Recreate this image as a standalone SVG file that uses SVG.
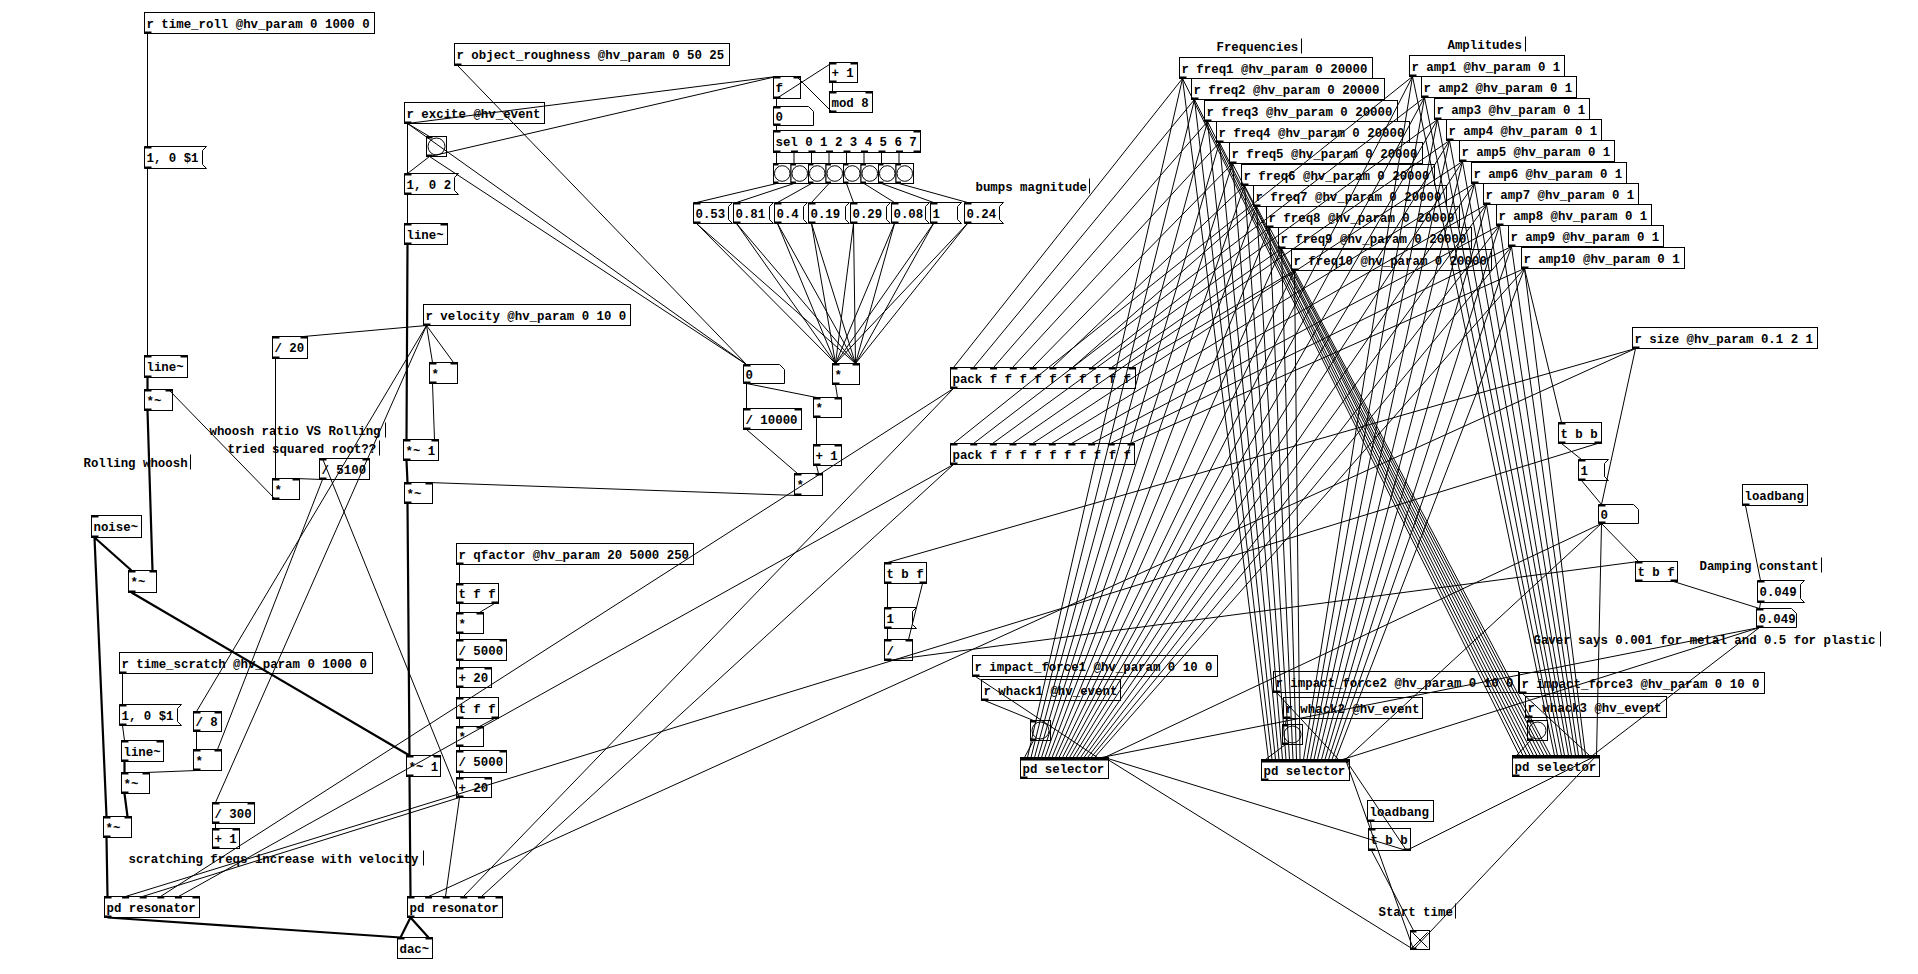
<svg xmlns="http://www.w3.org/2000/svg" width="1918" height="974" viewBox="0 0 1918 974">
<style>
.b{fill:#fff;stroke:#000;stroke-width:1}
.io{fill:#000}
.t{font-family:"Liberation Mono","DejaVu Sans Mono",monospace;font-size:12.4px;font-weight:bold;fill:#000}
.c{fill:none;stroke:#000;stroke-width:1}
.s{fill:none;stroke:#000;stroke-width:2.2}
.bar{stroke:#000;stroke-width:1}
.bc{fill:none;stroke:#000;stroke-width:1}
</style>
<rect x="0" y="0" width="1918" height="974" fill="#fff"/>
<g transform="translate(0.5,0.5)">
<g id="nodes">
<g id="n-time_roll"><rect class="b" x="144" y="12" width="230" height="21"/><text class="t" x="146" y="27">r time_roll @hv_param 0 1000 0</text><rect class="io" x="144" y="31" width="7" height="2"/></g>
<g id="n-msg-roll"><polygon class="b" points="144,146 206,146 202,150 202,164 206,168 144,168"/><text class="t" x="146" y="161">1, 0 $1</text><rect class="io" x="144" y="146" width="7" height="2"/><rect class="io" x="144" y="166" width="7" height="2"/></g>
<g id="n-line-roll"><rect class="b" x="144" y="355" width="43" height="22"/><text class="t" x="146" y="370">line~</text><rect class="io" x="144" y="355" width="7" height="2"/><rect class="io" x="180" y="355" width="7" height="2"/><rect class="io" x="144" y="375" width="7" height="2"/></g>
<g id="n-mul-roll"><rect class="b" x="144" y="389" width="28" height="21"/><text class="t" x="146" y="404">*~</text><rect class="io" x="144" y="389" width="7" height="2"/><rect class="io" x="165" y="389" width="7" height="2"/><rect class="io" x="144" y="408" width="7" height="2"/></g>
<g id="n-div20"><rect class="b" x="272" y="336" width="35" height="22"/><text class="t" x="274" y="351">/ 20</text><rect class="io" x="272" y="336" width="7" height="2"/><rect class="io" x="300" y="336" width="7" height="2"/><rect class="io" x="272" y="356" width="7" height="2"/></g>
<g id="n-mul-ratio"><rect class="b" x="272" y="478" width="27" height="21"/><text class="t" x="274" y="493">*</text><rect class="io" x="272" y="478" width="7" height="2"/><rect class="io" x="292" y="478" width="7" height="2"/><rect class="io" x="272" y="497" width="7" height="2"/></g>
<g id="n-div5100"><rect class="b" x="319" y="458" width="50" height="21"/><text class="t" x="321" y="473">/ 5100</text><rect class="io" x="319" y="458" width="7" height="2"/><rect class="io" x="362" y="458" width="7" height="2"/><rect class="io" x="319" y="477" width="7" height="2"/></g>
<g id="n-noise"><rect class="b" x="91" y="515" width="50" height="22"/><text class="t" x="93" y="530">noise~</text><rect class="io" x="91" y="515" width="7" height="2"/><rect class="io" x="91" y="535" width="7" height="2"/></g>
<g id="n-mul-noise"><rect class="b" x="128" y="570" width="28" height="22"/><text class="t" x="130" y="585">*~</text><rect class="io" x="128" y="570" width="7" height="2"/><rect class="io" x="149" y="570" width="7" height="2"/><rect class="io" x="128" y="590" width="7" height="2"/></g>
<g id="n-time_scratch"><rect class="b" x="119" y="652" width="253" height="21"/><text class="t" x="121" y="667">r time_scratch @hv_param 0 1000 0</text><rect class="io" x="119" y="671" width="7" height="2"/></g>
<g id="n-msg-scratch"><polygon class="b" points="119,704 181,704 177,708 177,721 181,725 119,725"/><text class="t" x="121" y="719">1, 0 $1</text><rect class="io" x="119" y="704" width="7" height="2"/><rect class="io" x="119" y="723" width="7" height="2"/></g>
<g id="n-div8"><rect class="b" x="193" y="711" width="28" height="20"/><text class="t" x="195" y="725">/ 8</text><rect class="io" x="193" y="711" width="7" height="2"/><rect class="io" x="214" y="711" width="7" height="2"/><rect class="io" x="193" y="729" width="7" height="2"/></g>
<g id="n-line-scratch"><rect class="b" x="121" y="740" width="42" height="21"/><text class="t" x="123" y="755">line~</text><rect class="io" x="121" y="740" width="7" height="2"/><rect class="io" x="156" y="740" width="7" height="2"/><rect class="io" x="121" y="759" width="7" height="2"/></g>
<g id="n-mul-scr"><rect class="b" x="193" y="749" width="28" height="21"/><text class="t" x="195" y="764">*</text><rect class="io" x="193" y="749" width="7" height="2"/><rect class="io" x="214" y="749" width="7" height="2"/><rect class="io" x="193" y="768" width="7" height="2"/></g>
<g id="n-mulsig-scr"><rect class="b" x="121" y="772" width="28" height="21"/><text class="t" x="123" y="787">*~</text><rect class="io" x="121" y="772" width="7" height="2"/><rect class="io" x="142" y="772" width="7" height="2"/><rect class="io" x="121" y="791" width="7" height="2"/></g>
<g id="n-mulsig-noise2"><rect class="b" x="103" y="816" width="28" height="21"/><text class="t" x="105" y="831">*~</text><rect class="io" x="103" y="816" width="7" height="2"/><rect class="io" x="124" y="816" width="7" height="2"/><rect class="io" x="103" y="835" width="7" height="2"/></g>
<g id="n-div300"><rect class="b" x="212" y="802" width="42" height="21"/><text class="t" x="214" y="817">/ 300</text><rect class="io" x="212" y="802" width="7" height="2"/><rect class="io" x="247" y="802" width="7" height="2"/><rect class="io" x="212" y="821" width="7" height="2"/></g>
<g id="n-add1-scr"><rect class="b" x="212" y="828" width="27" height="20"/><text class="t" x="214" y="842">+ 1</text><rect class="io" x="212" y="828" width="7" height="2"/><rect class="io" x="232" y="828" width="7" height="2"/><rect class="io" x="212" y="846" width="7" height="2"/></g>
<g id="n-res-left"><rect class="b" x="104" y="896" width="95" height="21"/><text class="t" x="106" y="911">pd resonator</text><rect class="io" x="104" y="896" width="7" height="2"/><rect class="io" x="121.6" y="896" width="7" height="2"/><rect class="io" x="139.2" y="896" width="7" height="2"/><rect class="io" x="156.8" y="896" width="7" height="2"/><rect class="io" x="174.4" y="896" width="7" height="2"/><rect class="io" x="192" y="896" width="7" height="2"/><rect class="io" x="104" y="915" width="7" height="2"/></g>
<g id="n-res-right"><rect class="b" x="407" y="896" width="95" height="21"/><text class="t" x="409" y="911">pd resonator</text><rect class="io" x="407" y="896" width="7" height="2"/><rect class="io" x="424.6" y="896" width="7" height="2"/><rect class="io" x="442.2" y="896" width="7" height="2"/><rect class="io" x="459.8" y="896" width="7" height="2"/><rect class="io" x="477.4" y="896" width="7" height="2"/><rect class="io" x="495" y="896" width="7" height="2"/><rect class="io" x="407" y="915" width="7" height="2"/></g>
<g id="n-dac"><rect class="b" x="397" y="937" width="35" height="21"/><text class="t" x="399" y="952">dac~</text><rect class="io" x="397" y="937" width="7" height="2"/><rect class="io" x="425" y="937" width="7" height="2"/></g>

<g id="n-excite"><rect class="b" x="404" y="102" width="140" height="21"/><text class="t" x="406" y="117">r excite @hv_event</text><rect class="io" x="404" y="121" width="7" height="2"/></g>
<g id="n-bang-excite"><rect class="b" x="426" y="136" width="20" height="20"/><circle class="bc" cx="436" cy="146" r="8.5"/><rect class="io" x="426" y="136" width="6" height="2"/><rect class="io" x="426" y="154" width="6" height="2"/></g>
<g id="n-msg-excite"><polygon class="b" points="404,173 458,173 454,177 454,190 458,194 404,194"/><text class="t" x="406" y="188">1, 0 2</text><rect class="io" x="404" y="173" width="7" height="2"/><rect class="io" x="404" y="192" width="7" height="2"/></g>
<g id="n-line-excite"><rect class="b" x="404" y="223" width="43" height="21"/><text class="t" x="406" y="238">line~</text><rect class="io" x="404" y="223" width="7" height="2"/><rect class="io" x="440" y="223" width="7" height="2"/><rect class="io" x="404" y="242" width="7" height="2"/></g>
<g id="n-velocity"><rect class="b" x="423" y="304" width="207" height="21"/><text class="t" x="425" y="319">r velocity @hv_param 0 10 0</text><rect class="io" x="423" y="323" width="7" height="2"/></g>
<g id="n-mul-vel"><rect class="b" x="429" y="362" width="28" height="21"/><text class="t" x="431" y="377">*</text><rect class="io" x="429" y="362" width="7" height="2"/><rect class="io" x="450" y="362" width="7" height="2"/><rect class="io" x="429" y="381" width="7" height="2"/></g>
<g id="n-mulsig1-a"><rect class="b" x="403" y="439" width="35" height="21"/><text class="t" x="405" y="454">*~ 1</text><rect class="io" x="403" y="439" width="7" height="2"/><rect class="io" x="431" y="439" width="7" height="2"/><rect class="io" x="403" y="458" width="7" height="2"/></g>
<g id="n-mulsig-b"><rect class="b" x="404" y="482" width="28" height="21"/><text class="t" x="406" y="497">*~</text><rect class="io" x="404" y="482" width="7" height="2"/><rect class="io" x="425" y="482" width="7" height="2"/><rect class="io" x="404" y="501" width="7" height="2"/></g>
<g id="n-mulsig1-c"><rect class="b" x="406" y="755" width="34" height="21"/><text class="t" x="408" y="770">*~ 1</text><rect class="io" x="406" y="755" width="7" height="2"/><rect class="io" x="433" y="755" width="7" height="2"/><rect class="io" x="406" y="774" width="7" height="2"/></g>
<g id="n-qfactor"><rect class="b" x="456" y="543" width="237" height="21"/><text class="t" x="458" y="558">r qfactor @hv_param 20 5000 250</text><rect class="io" x="456" y="562" width="7" height="2"/></g>
<g id="n-tff1"><rect class="b" x="456" y="583" width="42" height="20"/><text class="t" x="458" y="597">t f f</text><rect class="io" x="456" y="583" width="7" height="2"/><rect class="io" x="456" y="601" width="7" height="2"/><rect class="io" x="491" y="601" width="7" height="2"/></g>
<g id="n-q-mul1"><rect class="b" x="456" y="612" width="27" height="21"/><text class="t" x="458" y="627">*</text><rect class="io" x="456" y="612" width="7" height="2"/><rect class="io" x="476" y="612" width="7" height="2"/><rect class="io" x="456" y="631" width="7" height="2"/></g>
<g id="n-q-div1"><rect class="b" x="456" y="639" width="50" height="21"/><text class="t" x="458" y="654">/ 5000</text><rect class="io" x="456" y="639" width="7" height="2"/><rect class="io" x="499" y="639" width="7" height="2"/><rect class="io" x="456" y="658" width="7" height="2"/></g>
<g id="n-q-add1"><rect class="b" x="456" y="667" width="35" height="20"/><text class="t" x="458" y="681">+ 20</text><rect class="io" x="456" y="667" width="7" height="2"/><rect class="io" x="484" y="667" width="7" height="2"/><rect class="io" x="456" y="685" width="7" height="2"/></g>
<g id="n-tff2"><rect class="b" x="456" y="697" width="42" height="21"/><text class="t" x="458" y="712">t f f</text><rect class="io" x="456" y="697" width="7" height="2"/><rect class="io" x="456" y="716" width="7" height="2"/><rect class="io" x="491" y="716" width="7" height="2"/></g>
<g id="n-q-mul2"><rect class="b" x="456" y="726" width="27" height="20"/><text class="t" x="458" y="740">*</text><rect class="io" x="456" y="726" width="7" height="2"/><rect class="io" x="476" y="726" width="7" height="2"/><rect class="io" x="456" y="744" width="7" height="2"/></g>
<g id="n-q-div2"><rect class="b" x="456" y="750" width="50" height="22"/><text class="t" x="458" y="765">/ 5000</text><rect class="io" x="456" y="750" width="7" height="2"/><rect class="io" x="499" y="750" width="7" height="2"/><rect class="io" x="456" y="770" width="7" height="2"/></g>
<g id="n-q-add2"><rect class="b" x="456" y="777" width="35" height="20"/><text class="t" x="458" y="791">+ 20</text><rect class="io" x="456" y="777" width="7" height="2"/><rect class="io" x="484" y="777" width="7" height="2"/><rect class="io" x="456" y="795" width="7" height="2"/></g>
<g id="n-roughness"><rect class="b" x="454" y="43" width="275" height="22"/><text class="t" x="456" y="58">r object_roughness @hv_param 0 50 25</text><rect class="io" x="454" y="63" width="7" height="2"/></g>
<g id="n-f"><rect class="b" x="773" y="76" width="27" height="22"/><text class="t" x="775" y="91">f</text><rect class="io" x="773" y="76" width="7" height="2"/><rect class="io" x="793" y="76" width="7" height="2"/><rect class="io" x="773" y="96" width="7" height="2"/></g>
<g id="n-add1-count"><rect class="b" x="829" y="62" width="28" height="20"/><text class="t" x="831" y="76">+ 1</text><rect class="io" x="829" y="62" width="7" height="2"/><rect class="io" x="850" y="62" width="7" height="2"/><rect class="io" x="829" y="80" width="7" height="2"/></g>
<g id="n-mod8"><rect class="b" x="829" y="91" width="43" height="21"/><text class="t" x="831" y="106">mod 8</text><rect class="io" x="829" y="91" width="7" height="2"/><rect class="io" x="865" y="91" width="7" height="2"/><rect class="io" x="829" y="110" width="7" height="2"/></g>
<g id="n-num-count"><polygon class="b" points="773,106 808,106 813,111 813,125 773,125"/><text class="t" x="775" y="120">0</text><rect class="io" x="773" y="106" width="7" height="2"/><rect class="io" x="773" y="123" width="7" height="2"/></g>
<g id="n-sel"><rect class="b" x="773" y="130" width="147" height="22"/><text class="t" x="775" y="145">sel 0 1 2 3 4 5 6 7</text><rect class="io" x="773" y="130" width="7" height="2"/><rect class="io" x="913" y="130" width="7" height="2"/><rect class="io" x="773" y="150" width="7" height="2"/><rect class="io" x="790.5" y="150" width="7" height="2"/><rect class="io" x="808" y="150" width="7" height="2"/><rect class="io" x="825.5" y="150" width="7" height="2"/><rect class="io" x="843" y="150" width="7" height="2"/><rect class="io" x="860.5" y="150" width="7" height="2"/><rect class="io" x="878" y="150" width="7" height="2"/><rect class="io" x="895.5" y="150" width="7" height="2"/><rect class="io" x="913" y="150" width="7" height="2"/></g>
<g id="n-bangs-sel">
<rect class="b" x="773" y="163" width="17.5" height="20"/><circle class="bc" cx="781.75" cy="173" r="7.8"/>
<rect class="b" x="790.5" y="163" width="17.5" height="20"/><circle class="bc" cx="799.25" cy="173" r="7.8"/>
<rect class="b" x="808" y="163" width="17.5" height="20"/><circle class="bc" cx="816.75" cy="173" r="7.8"/>
<rect class="b" x="825.5" y="163" width="17.5" height="20"/><circle class="bc" cx="834.25" cy="173" r="7.8"/>
<rect class="b" x="843" y="163" width="17.5" height="20"/><circle class="bc" cx="851.75" cy="173" r="7.8"/>
<rect class="b" x="860.5" y="163" width="17.5" height="20"/><circle class="bc" cx="869.25" cy="173" r="7.8"/>
<rect class="b" x="878" y="163" width="17.5" height="20"/><circle class="bc" cx="886.75" cy="173" r="7.8"/>
<rect class="b" x="895.5" y="163" width="17.5" height="20"/><circle class="bc" cx="904.25" cy="173" r="7.8"/>
<rect class="io" x="773" y="163" width="5" height="2"/><rect class="io" x="790.5" y="163" width="5" height="2"/><rect class="io" x="808" y="163" width="5" height="2"/><rect class="io" x="825.5" y="163" width="5" height="2"/><rect class="io" x="843" y="163" width="5" height="2"/><rect class="io" x="860.5" y="163" width="5" height="2"/><rect class="io" x="878" y="163" width="5" height="2"/><rect class="io" x="895.5" y="163" width="5" height="2"/>
<rect class="io" x="773" y="181" width="5" height="2"/><rect class="io" x="790.5" y="181" width="5" height="2"/><rect class="io" x="808" y="181" width="5" height="2"/><rect class="io" x="825.5" y="181" width="5" height="2"/><rect class="io" x="843" y="181" width="5" height="2"/><rect class="io" x="860.5" y="181" width="5" height="2"/><rect class="io" x="878" y="181" width="5" height="2"/><rect class="io" x="895.5" y="181" width="5" height="2"/>
</g>
<g id="n-msg-053"><polygon class="b" points="693,202 732,202 728,206 728,219 732,223 693,223"/><text class="t" x="695" y="217">0.53</text><rect class="io" x="693" y="202" width="7" height="2"/><rect class="io" x="693" y="221" width="7" height="2"/></g>
<g id="n-msg-081"><polygon class="b" points="733,202 773,202 769,206 769,219 773,223 733,223"/><text class="t" x="735" y="217">0.81</text><rect class="io" x="733" y="202" width="7" height="2"/><rect class="io" x="733" y="221" width="7" height="2"/></g>
<g id="n-msg-04"><polygon class="b" points="774,202 807,202 803,206 803,219 807,223 774,223"/><text class="t" x="776" y="217">0.4</text><rect class="io" x="774" y="202" width="7" height="2"/><rect class="io" x="774" y="221" width="7" height="2"/></g>
<g id="n-msg-019"><polygon class="b" points="808,202 849,202 845,206 845,219 849,223 808,223"/><text class="t" x="810" y="217">0.19</text><rect class="io" x="808" y="202" width="7" height="2"/><rect class="io" x="808" y="221" width="7" height="2"/></g>
<g id="n-msg-029"><polygon class="b" points="850,202 890,202 886,206 886,219 890,223 850,223"/><text class="t" x="852" y="217">0.29</text><rect class="io" x="850" y="202" width="7" height="2"/><rect class="io" x="850" y="221" width="7" height="2"/></g>
<g id="n-msg-008"><polygon class="b" points="891,202 929,202 925,206 925,219 929,223 891,223"/><text class="t" x="893" y="217">0.08</text><rect class="io" x="891" y="202" width="7" height="2"/><rect class="io" x="891" y="221" width="7" height="2"/></g>
<g id="n-msg-1"><polygon class="b" points="930,202 961,202 957,206 957,219 961,223 930,223"/><text class="t" x="932" y="217">1</text><rect class="io" x="930" y="202" width="7" height="2"/><rect class="io" x="930" y="221" width="7" height="2"/></g>
<g id="n-msg-024"><polygon class="b" points="964,202 1003,202 999,206 999,219 1003,223 964,223"/><text class="t" x="966" y="217">0.24</text><rect class="io" x="964" y="202" width="7" height="2"/><rect class="io" x="964" y="221" width="7" height="2"/></g>
<g id="n-num-rough"><polygon class="b" points="743,364 779,364 784,369 784,383 743,383"/><text class="t" x="745" y="378">0</text><rect class="io" x="743" y="364" width="7" height="2"/><rect class="io" x="743" y="381" width="7" height="2"/></g>
<g id="n-div10000"><rect class="b" x="743" y="408" width="58" height="21"/><text class="t" x="745" y="423">/ 10000</text><rect class="io" x="743" y="408" width="7" height="2"/><rect class="io" x="794" y="408" width="7" height="2"/><rect class="io" x="743" y="427" width="7" height="2"/></g>
<g id="n-mul-sq"><rect class="b" x="832" y="363" width="27" height="21"/><text class="t" x="834" y="378">*</text><rect class="io" x="832" y="363" width="7" height="2"/><rect class="io" x="852" y="363" width="7" height="2"/><rect class="io" x="832" y="382" width="7" height="2"/></g>
<g id="n-mul-bump"><rect class="b" x="813" y="397" width="28" height="20"/><text class="t" x="815" y="411">*</text><rect class="io" x="813" y="397" width="7" height="2"/><rect class="io" x="834" y="397" width="7" height="2"/><rect class="io" x="813" y="415" width="7" height="2"/></g>
<g id="n-add1-bump"><rect class="b" x="813" y="444" width="28" height="21"/><text class="t" x="815" y="459">+ 1</text><rect class="io" x="813" y="444" width="7" height="2"/><rect class="io" x="834" y="444" width="7" height="2"/><rect class="io" x="813" y="463" width="7" height="2"/></g>
<g id="n-mul-out"><rect class="b" x="794" y="473" width="28" height="22"/><text class="t" x="796" y="488">*</text><rect class="io" x="794" y="473" width="7" height="2"/><rect class="io" x="815" y="473" width="7" height="2"/><rect class="io" x="794" y="493" width="7" height="2"/></g>
<g id="n-tbf-left"><rect class="b" x="884" y="562" width="42" height="21"/><text class="t" x="886" y="577">t b f</text><rect class="io" x="884" y="562" width="7" height="2"/><rect class="io" x="884" y="581" width="7" height="2"/><rect class="io" x="919" y="581" width="7" height="2"/></g>
<g id="n-msg1-left"><polygon class="b" points="884,607 916,607 912,611 912,624 916,628 884,628"/><text class="t" x="886" y="622">1</text><rect class="io" x="884" y="607" width="7" height="2"/><rect class="io" x="884" y="626" width="7" height="2"/></g>
<g id="n-div-left"><rect class="b" x="884" y="639" width="28" height="21"/><text class="t" x="886" y="654">/</text><rect class="io" x="884" y="639" width="7" height="2"/><rect class="io" x="905" y="639" width="7" height="2"/><rect class="io" x="884" y="658" width="7" height="2"/></g>
<g id="n-pack1"><rect class="b" x="950" y="367" width="185" height="21"/><text class="t" x="952" y="382">pack f f f f f f f f f f</text><rect class="io" x="950" y="367" width="7" height="2"/><rect class="io" x="969.8" y="367" width="7" height="2"/><rect class="io" x="989.6" y="367" width="7" height="2"/><rect class="io" x="1009.3" y="367" width="7" height="2"/><rect class="io" x="1029.1" y="367" width="7" height="2"/><rect class="io" x="1048.9" y="367" width="7" height="2"/><rect class="io" x="1068.7" y="367" width="7" height="2"/><rect class="io" x="1088.4" y="367" width="7" height="2"/><rect class="io" x="1108.2" y="367" width="7" height="2"/><rect class="io" x="1128" y="367" width="7" height="2"/><rect class="io" x="950" y="386" width="7" height="2"/></g>
<g id="n-pack2"><rect class="b" x="950" y="443" width="184" height="21"/><text class="t" x="952" y="458">pack f f f f f f f f f f</text><rect class="io" x="950" y="443" width="7" height="2"/><rect class="io" x="969.7" y="443" width="7" height="2"/><rect class="io" x="989.3" y="443" width="7" height="2"/><rect class="io" x="1009" y="443" width="7" height="2"/><rect class="io" x="1028.7" y="443" width="7" height="2"/><rect class="io" x="1048.3" y="443" width="7" height="2"/><rect class="io" x="1068" y="443" width="7" height="2"/><rect class="io" x="1087.7" y="443" width="7" height="2"/><rect class="io" x="1107.3" y="443" width="7" height="2"/><rect class="io" x="1127" y="443" width="7" height="2"/><rect class="io" x="950" y="462" width="7" height="2"/></g>

<g id="n-freq1"><rect class="b" x="1179" y="57" width="193" height="21"/><text class="t" x="1181" y="72">r freq1 @hv_param 0 20000</text><rect class="io" x="1179" y="76" width="7" height="2"/></g>
<g id="n-freq2"><rect class="b" x="1191" y="78" width="193" height="21"/><text class="t" x="1193" y="93">r freq2 @hv_param 0 20000</text><rect class="io" x="1191" y="97" width="7" height="2"/></g>
<g id="n-freq3"><rect class="b" x="1204" y="100" width="193" height="21"/><text class="t" x="1206" y="115">r freq3 @hv_param 0 20000</text><rect class="io" x="1204" y="119" width="7" height="2"/></g>
<g id="n-freq4"><rect class="b" x="1216" y="121" width="193" height="21"/><text class="t" x="1218" y="136">r freq4 @hv_param 0 20000</text><rect class="io" x="1216" y="140" width="7" height="2"/></g>
<g id="n-freq5"><rect class="b" x="1229" y="142" width="193" height="21"/><text class="t" x="1231" y="157">r freq5 @hv_param 0 20000</text><rect class="io" x="1229" y="161" width="7" height="2"/></g>
<g id="n-freq6"><rect class="b" x="1241" y="164" width="193" height="21"/><text class="t" x="1243" y="179">r freq6 @hv_param 0 20000</text><rect class="io" x="1241" y="183" width="7" height="2"/></g>
<g id="n-freq7"><rect class="b" x="1253" y="185" width="193" height="21"/><text class="t" x="1255" y="200">r freq7 @hv_param 0 20000</text><rect class="io" x="1253" y="204" width="7" height="2"/></g>
<g id="n-freq8"><rect class="b" x="1266" y="206" width="193" height="21"/><text class="t" x="1268" y="221">r freq8 @hv_param 0 20000</text><rect class="io" x="1266" y="225" width="7" height="2"/></g>
<g id="n-freq9"><rect class="b" x="1278" y="227" width="193" height="21"/><text class="t" x="1280" y="242">r freq9 @hv_param 0 20000</text><rect class="io" x="1278" y="246" width="7" height="2"/></g>
<g id="n-freq10"><rect class="b" x="1291" y="249" width="200" height="21"/><text class="t" x="1293" y="264">r freq10 @hv_param 0 20000</text><rect class="io" x="1291" y="268" width="7" height="2"/></g>
<g id="n-amp1"><rect class="b" x="1409" y="55" width="155" height="21"/><text class="t" x="1411" y="70">r amp1 @hv_param 0 1</text><rect class="io" x="1409" y="74" width="7" height="2"/></g>
<g id="n-amp2"><rect class="b" x="1421" y="76" width="155" height="21"/><text class="t" x="1423" y="91">r amp2 @hv_param 0 1</text><rect class="io" x="1421" y="95" width="7" height="2"/></g>
<g id="n-amp3"><rect class="b" x="1434" y="98" width="155" height="21"/><text class="t" x="1436" y="113">r amp3 @hv_param 0 1</text><rect class="io" x="1434" y="117" width="7" height="2"/></g>
<g id="n-amp4"><rect class="b" x="1446" y="119" width="155" height="21"/><text class="t" x="1448" y="134">r amp4 @hv_param 0 1</text><rect class="io" x="1446" y="138" width="7" height="2"/></g>
<g id="n-amp5"><rect class="b" x="1459" y="140" width="155" height="21"/><text class="t" x="1461" y="155">r amp5 @hv_param 0 1</text><rect class="io" x="1459" y="159" width="7" height="2"/></g>
<g id="n-amp6"><rect class="b" x="1471" y="162" width="155" height="21"/><text class="t" x="1473" y="177">r amp6 @hv_param 0 1</text><rect class="io" x="1471" y="181" width="7" height="2"/></g>
<g id="n-amp7"><rect class="b" x="1483" y="183" width="155" height="21"/><text class="t" x="1485" y="198">r amp7 @hv_param 0 1</text><rect class="io" x="1483" y="202" width="7" height="2"/></g>
<g id="n-amp8"><rect class="b" x="1496" y="204" width="155" height="21"/><text class="t" x="1498" y="219">r amp8 @hv_param 0 1</text><rect class="io" x="1496" y="223" width="7" height="2"/></g>
<g id="n-amp9"><rect class="b" x="1508" y="225" width="155" height="21"/><text class="t" x="1510" y="240">r amp9 @hv_param 0 1</text><rect class="io" x="1508" y="244" width="7" height="2"/></g>
<g id="n-amp10"><rect class="b" x="1521" y="247" width="163" height="21"/><text class="t" x="1523" y="262">r amp10 @hv_param 0 1</text><rect class="io" x="1521" y="266" width="7" height="2"/></g>
<g id="n-size"><rect class="b" x="1632" y="327" width="185" height="21"/><text class="t" x="1634" y="342">r size @hv_param 0.1 2 1</text><rect class="io" x="1632" y="346" width="7" height="2"/></g>
<g id="n-tbb-right"><rect class="b" x="1558" y="422" width="43" height="21"/><text class="t" x="1560" y="437">t b b</text><rect class="io" x="1558" y="422" width="7" height="2"/><rect class="io" x="1558" y="441" width="7" height="2"/><rect class="io" x="1594" y="441" width="7" height="2"/></g>
<g id="n-msg1-right"><polygon class="b" points="1578,459 1608,459 1604,463 1604,476 1608,480 1578,480"/><text class="t" x="1580" y="474">1</text><rect class="io" x="1578" y="459" width="7" height="2"/><rect class="io" x="1578" y="478" width="7" height="2"/></g>
<g id="n-num-size"><polygon class="b" points="1598,504 1633,504 1638,509 1638,523 1598,523"/><text class="t" x="1600" y="518">0</text><rect class="io" x="1598" y="504" width="7" height="2"/><rect class="io" x="1598" y="521" width="7" height="2"/></g>
<g id="n-tbf-right"><rect class="b" x="1635" y="561" width="42" height="20"/><text class="t" x="1637" y="575">t b f</text><rect class="io" x="1635" y="561" width="7" height="2"/><rect class="io" x="1635" y="579" width="7" height="2"/><rect class="io" x="1670" y="579" width="7" height="2"/></g>
<g id="n-loadbang-right"><rect class="b" x="1742" y="484" width="65" height="21"/><text class="t" x="1744" y="499">loadbang</text><rect class="io" x="1742" y="503" width="7" height="2"/></g>
<g id="n-msg-damp"><polygon class="b" points="1757,580 1804,580 1800,584 1800,598 1804,602 1757,602"/><text class="t" x="1759" y="595">0.049</text><rect class="io" x="1757" y="580" width="7" height="2"/><rect class="io" x="1757" y="600" width="7" height="2"/></g>
<g id="n-num-damp"><polygon class="b" points="1756,608 1791,608 1796,613 1796,627 1756,627"/><text class="t" x="1758" y="622">0.049</text><rect class="io" x="1756" y="608" width="7" height="2"/><rect class="io" x="1756" y="625" width="7" height="2"/></g>
<g id="n-impact1"><rect class="b" x="972" y="655" width="245" height="21"/><text class="t" x="974" y="670">r impact_force1 @hv_param 0 10 0</text><rect class="io" x="972" y="674" width="7" height="2"/></g>
<g id="n-whack1"><rect class="b" x="981" y="679" width="139" height="21"/><text class="t" x="983" y="694">r whack1 @hv_event</text><rect class="io" x="981" y="698" width="7" height="2"/></g>
<g id="n-bang-w1"><rect class="b" x="1030" y="720" width="20" height="20"/><circle class="bc" cx="1040" cy="730" r="8.5"/><rect class="io" x="1030" y="720" width="6" height="2"/><rect class="io" x="1030" y="738" width="6" height="2"/></g>
<g id="n-sel1"><rect class="b" x="1020" y="757" width="88" height="21"/><text class="t" x="1022" y="772">pd selector</text><rect class="io" x="1020" y="757" width="88" height="3"/><rect class="io" x="1020" y="776" width="7" height="2"/></g>
<g id="n-impact2"><rect class="b" x="1273" y="671" width="245" height="21"/><text class="t" x="1275" y="686">r impact_force2 @hv_param 0 10 0</text><rect class="io" x="1273" y="690" width="7" height="2"/></g>
<g id="n-whack2"><rect class="b" x="1283" y="697" width="139" height="21"/><text class="t" x="1285" y="712">r whack2 @hv_event</text><rect class="io" x="1283" y="716" width="7" height="2"/></g>
<g id="n-bang-w2"><rect class="b" x="1282" y="724" width="20" height="20"/><circle class="bc" cx="1292" cy="734" r="8.5"/><rect class="io" x="1282" y="724" width="6" height="2"/><rect class="io" x="1282" y="742" width="6" height="2"/></g>
<g id="n-sel2"><rect class="b" x="1261" y="759" width="88" height="21"/><text class="t" x="1263" y="774">pd selector</text><rect class="io" x="1261" y="759" width="88" height="3"/><rect class="io" x="1261" y="778" width="7" height="2"/></g>
<g id="n-impact3"><rect class="b" x="1519" y="672" width="245" height="21"/><text class="t" x="1521" y="687">r impact_force3 @hv_param 0 10 0</text><rect class="io" x="1519" y="691" width="7" height="2"/></g>
<g id="n-whack3"><rect class="b" x="1525" y="696" width="141" height="21"/><text class="t" x="1527" y="711">r whack3 @hv_event</text><rect class="io" x="1525" y="715" width="7" height="2"/></g>
<g id="n-bang-w3"><rect class="b" x="1527" y="720" width="20" height="20"/><circle class="bc" cx="1537" cy="730" r="8.5"/><rect class="io" x="1527" y="720" width="6" height="2"/><rect class="io" x="1527" y="738" width="6" height="2"/></g>
<g id="n-sel3"><rect class="b" x="1512" y="755" width="87" height="21"/><text class="t" x="1514" y="770">pd selector</text><rect class="io" x="1512" y="755" width="87" height="3"/><rect class="io" x="1512" y="774" width="7" height="2"/></g>
<g id="n-loadbang-center"><rect class="b" x="1367" y="800" width="66" height="21"/><text class="t" x="1369" y="815">loadbang</text><rect class="io" x="1367" y="819" width="7" height="2"/></g>
<g id="n-tbb-center"><rect class="b" x="1368" y="828" width="42" height="22"/><text class="t" x="1370" y="843">t b b</text><rect class="io" x="1368" y="828" width="7" height="2"/><rect class="io" x="1368" y="848" width="7" height="2"/><rect class="io" x="1403" y="848" width="7" height="2"/></g>
<g id="n-toggle"><rect class="b" x="1410" y="930" width="19" height="19"/><path class="bc" d="M1412 932 L1427 947 M1427 932 L1412 947"/><rect class="io" x="1410" y="930" width="6" height="2"/><rect class="io" x="1410" y="947" width="6" height="2"/></g>

<g id="comments">
<text class="t" x="1216" y="50">Frequencies</text><line class="bar" x1="1301" y1="38" x2="1301" y2="53"/>
<text class="t" x="1447" y="48">Amplitudes</text><line class="bar" x1="1525" y1="36" x2="1525" y2="51"/>
<text class="t" x="975" y="190">bumps magnitude</text><line class="bar" x1="1089" y1="178" x2="1089" y2="193"/>
<text class="t" x="209" y="434">whoosh ratio VS Rolling</text><line class="bar" x1="385" y1="422" x2="385" y2="437"/>
<text class="t" x="227" y="452">tried squared root??</text><line class="bar" x1="379" y1="440" x2="379" y2="455"/>
<text class="t" x="83" y="466">Rolling whoosh</text><line class="bar" x1="190" y1="454" x2="190" y2="469"/>
<text class="t" x="128" y="862">scratching freqs increase with velocity</text><line class="bar" x1="423" y1="850" x2="423" y2="865"/>
<text class="t" x="1699" y="569">Damping constant</text><line class="bar" x1="1821" y1="557" x2="1821" y2="572"/>
<text class="t" x="1533" y="643">Gaver says 0.001 for metal and 0.5 for plastic</text><line class="bar" x1="1880" y1="631" x2="1880" y2="646"/>
<text class="t" x="1378" y="915">Start time</text><line class="bar" x1="1455" y1="903" x2="1455" y2="918"/>
</g>
</g>

<g id="connectors">
<path class="s" d="M147 377 L147 389 M147 410 L152 570 M94 537 L131 570 M94 537 L106 816 M131 592 L409 755 M124 761 L124 772 M124 793 L127 816 M106 837 L107 896 M107 917 L400 937 M410 917 L400 937 M410 917 L428 937 M407 244 L406 439 M406 460 L407 482 M407 503 L409 755 M409 776 L410 896"/>
<path class="c" d="M147 33 L147 146 M147 168 L147 355 M275 499 L168 389 M275 358 L275 478 M322 479 L295 478 M322 479 L217 749 M426 325 L303 336 M426 325 L432 362 M426 325 L453 362 M426 325 L196 711 M426 325 L215 802 M432 383 L434 439 M459 797 L322 458 M122 673 L122 704 M122 725 L124 740 M196 731 L196 749 M196 770 L145 772 M215 823 L215 828"/>
<path class="c" d="M407 123 L407 173 M407 123 L429 136 M407 123 L746 364 M407 123 L776 76 M429 156 L407 173 M429 156 L746 364 M429 156 L776 76 M407 194 L407 223 M457 65 L746 364 M776 98 L832 62 M832 82 L832 91 M832 112 L796 76 M776 98 L776 106 M776 125 L776 130"/>
<path class="c" d="M776 152 L776 163 M793.5 152 L793.5 163 M811 152 L811 163 M828.5 152 L828.5 163 M846 152 L846 163 M863.5 152 L863.5 163 M881 152 L881 163 M898.5 152 L898.5 163"/>
<path class="c" d="M776 183 L696 202 M793.5 183 L736 202 M811 183 L777 202 M828.5 183 L811 202 M846 183 L853 202 M863.5 183 L894 202 M881 183 L933 202 M898.5 183 L967 202"/>
<path class="c" d="M696 223 L835 363 M696 223 L855 363 M736 223 L835 363 M736 223 L855 363 M777 223 L835 363 M777 223 L855 363 M811 223 L835 363 M811 223 L855 363 M853 223 L835 363 M853 223 L855 363 M894 223 L835 363 M894 223 L855 363 M933 223 L835 363 M933 223 L855 363 M967 223 L835 363 M967 223 L855 363"/>
<path class="c" d="M746 383 L746 408 M746 383 L816 397 M835 384 L837 397 M816 417 L816 444 M816 465 L818 473 M746 429 L797 473 M797 495 L428 482"/>
<path class="c" d="M459 564 L459 583 M459 603 L459 612 M494 603 L479 612 M459 633 L459 639 M459 660 L459 667 M459 687 L459 697 M459 718 L459 726 M494 718 L479 726 M459 746 L459 750 M459 772 L459 777 M459 797 L445 896 M459 797 L142 896"/>
<path class="c" d="M953 388 L463 896 M953 388 L160 896 M953 464 L481 896 M953 464 L178 896 M1635 348 L428 896 M1597 443 L125 896 M1635 348 L887 562 M887 583 L887 607 M922 583 L908 639 M887 628 L887 639 M887 660 L1638 561"/>
<path class="c" d="M1182 78 L953 367 M1182 78 L1027 757 M1182 78 L1268 759 M1182 78 L1519 755
M1194 99 L973 367 M1194 99 L1030.5 757 M1194 99 L1271.5 759 M1194 99 L1522.5 755
M1207 121 L993 367 M1207 121 L1034 757 M1207 121 L1275 759 M1207 121 L1526 755
M1219 142 L1012 367 M1219 142 L1037.5 757 M1219 142 L1278.5 759 M1219 142 L1529.5 755
M1232 163 L1032 367 M1232 163 L1041 757 M1232 163 L1282 759 M1232 163 L1533 755
M1244 185 L1052 367 M1244 185 L1044.5 757 M1244 185 L1285.5 759 M1244 185 L1536.5 755
M1256 206 L1072 367 M1256 206 L1048 757 M1256 206 L1289 759 M1256 206 L1540 755
M1269 227 L1091 367 M1269 227 L1051.5 757 M1269 227 L1292.5 759 M1269 227 L1543.5 755
M1281 248 L1111 367 M1281 248 L1055 757 M1281 248 L1296 759 M1281 248 L1547 755
M1294 270 L1131 367 M1294 270 L1058.5 757 M1294 270 L1299.5 759 M1294 270 L1550 755"/>
<path class="c" d="M1412 76 L953 443 M1412 76 L1062 757 M1412 76 L1303 759 M1412 76 L1554 755
M1424 97 L973 443 M1424 97 L1065.5 757 M1424 97 L1306.5 759 M1424 97 L1557 755
M1437 119 L992 443 M1437 119 L1069 757 M1437 119 L1310 759 M1437 119 L1561 755
M1449 140 L1012 443 M1449 140 L1072.5 757 M1449 140 L1313.5 759 M1449 140 L1564 755
M1462 161 L1032 443 M1462 161 L1076 757 M1462 161 L1317 759 M1462 161 L1568 755
M1474 183 L1051 443 M1474 183 L1080 757 M1474 183 L1321 759 M1474 183 L1571 755
M1486 204 L1071 443 M1486 204 L1083.5 757 M1486 204 L1324.5 759 M1486 204 L1575 755
M1499 225 L1091 443 M1499 225 L1087 757 M1499 225 L1328 759 M1499 225 L1578 755
M1511 246 L1110 443 M1511 246 L1090.5 757 M1511 246 L1331.5 759 M1511 246 L1582 755
M1524 268 L1130 443 M1524 268 L1094 757 M1524 268 L1335 759 M1524 268 L1585 755 M1524 268 L1561 422"/>
<path class="c" d="M1561 443 L1581 459 M1581 480 L1601 504 M1635 348 L1601 504 M1601 523 L1104 757 M1601 523 L1345 759 M1601 523 L1596 755 M1601 523 L1638 561 M1673 581 L1759 608 M1745 505 L1760 580 M1760 602 L1759 608 M1759 627 L1101 757 M1759 627 L1342 759 M1759 627 L1592 755"/>
<path class="c" d="M975 676 L1097 757 M1276 692 L1338 759 M1522 693 L1589 755 M984 700 L1033 720 M1033 740 L1024 757 M1286 718 L1285 724 M1285 744 L1265 759 M1528 717 L1530 720 M1530 740 L1516 755"/>
<path class="c" d="M1370 821 L1371 828 M1371 850 L1413 930 M1406 850 L1104 757 M1406 850 L1345 759 M1406 850 L1596 755 M1413 949 L1104 757 M1413 949 L1345 759 M1413 949 L1596 755"/>
</g>
</g>
</svg>
